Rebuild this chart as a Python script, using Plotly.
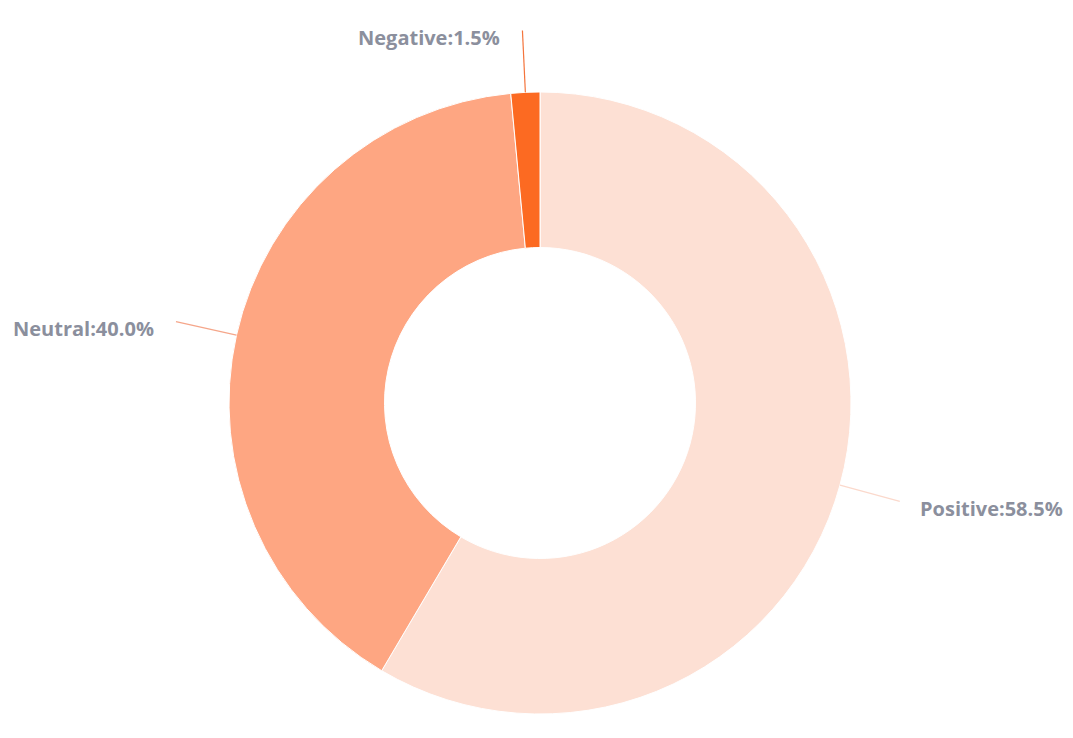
import math
import plotly.graph_objects as go

# ---- data ----
labels = ["Positive", "Neutral", "Negative"]
values = [58.5, 40.0, 1.5]
colors = ["#fde0d4", "#fea682", "#fc6a22"]
line_colors = ["#fbd9cc", "#f5a68a", "#f4743c"]

# ---- layout geometry ----
W, H = 1073, 738
ML, MR, MT, MB = 0, 9, 84, 32
HOLE = 0.5

fig = go.Figure(go.Pie(
    labels=labels,
    values=values,
    hole=HOLE,
    sort=False,
    direction="clockwise",
    rotation=0,
    marker=dict(colors=colors, line=dict(color="#ffffff", width=1)),
    textinfo="none",
    hoverinfo="label+percent",
    showlegend=False,
))

# compute pie geometry (figure pixel space) as plotly lays it out
pw, ph = W - ML - MR, H - MT - MB
cx, cy = ML + pw / 2, MT + ph / 2
R = min(pw, ph) / 2

def to_paper(px, py):
    return (px - ML) / pw, 1 - (py - MT) / ph

total = sum(values)
cum = 0.0
LINE_LEN = 62
for lab, val, lc in zip(labels, values, line_colors):
    mid = (cum + val / 2) / total * 2 * math.pi
    cum += val
    dx, dy = math.sin(mid), -math.cos(mid)
    p0 = (cx + R * dx, cy + R * dy)
    p2 = (cx + (R + LINE_LEN) * dx, cy + (R + LINE_LEN) * dy)
    a0 = to_paper(*p0)
    a2 = to_paper(*p2)
    fig.add_shape(type="line", xref="paper", yref="paper",
                  x0=a0[0], y0=a0[1], x1=a2[0], y1=a2[1],
                  line=dict(color=lc, width=1.2))
    right_side = dx >= 0
    lx = p2[0] + (18 if right_side else -20)
    ly = p2[1] + 7
    ap = to_paper(lx, ly)
    pct = val / total * 100
    fig.add_annotation(
        x=ap[0], y=ap[1], xref="paper", yref="paper",
        text=f"<b>{lab}:{pct:.1f}%</b>",
        showarrow=False,
        xanchor="left" if right_side else "right",
        yanchor="middle",
        font=dict(family="'Open Sans', 'Noto Sans', sans-serif", size=20, color="#8b8f9d"),
    )

fig.update_layout(
    width=W, height=H,
    margin=dict(l=ML, r=MR, t=MT, b=MB),
    paper_bgcolor="#ffffff",
    plot_bgcolor="#ffffff",
)

fig.write_html("out.html")
